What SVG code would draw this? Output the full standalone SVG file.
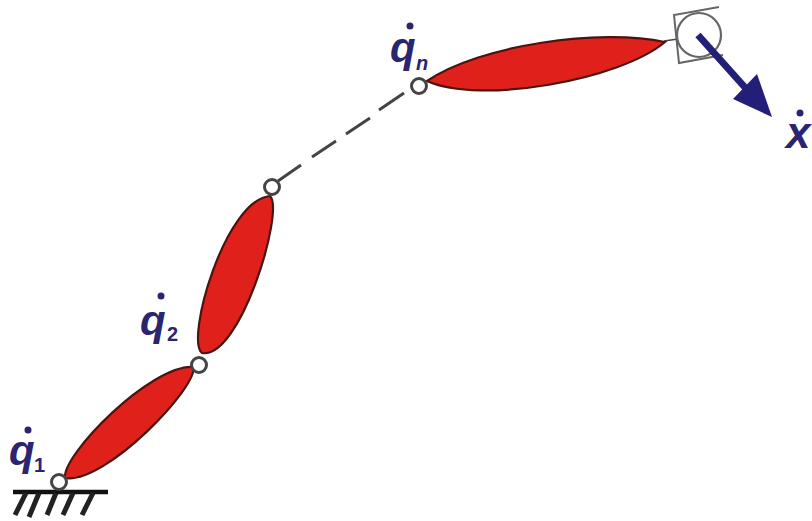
<svg xmlns="http://www.w3.org/2000/svg" width="812" height="521" viewBox="0 0 812 521">
<style>
.link{fill:#e0201a;stroke:#4a1410;stroke-width:2.2}
.joint{fill:#fff;stroke:#444;stroke-width:3}
.lbl{font-family:"Liberation Sans",Arial,sans-serif;font-weight:bold;fill:#2b2470}
.it{font-style:italic}
.dot{fill:#2b2470}
.line{stroke:#444;fill:none}
</style>
<rect width="812" height="521" fill="#fff"/>
<g id="connectors">
<path class="line" stroke-width="3" d="M278 181L301 165M312 157L336 141M346 134L370 118M379 110L404 93"/>
<path class="line" stroke-width="1.5" d="M664 41L678 39"/>
</g>
<g id="ground">
<path d="M13 492H108" stroke="#111" stroke-width="4.5" fill="none"/>
<path d="M26 493L15 515M39 493L29 517M56 493L47 515M73 493L63 515M93 493L82 515" stroke="#222" stroke-width="5" fill="none"/>
</g>
<g id="link1"><path class="link" d="M65 478C62 455 150 365 193 367C200 385 105 485 65 478Z"/></g>
<g id="link2"><path class="link" d="M202 353C185 340 225 200 270 196C285 210 240 360 202 353Z"/></g>
<g id="linkn"><path class="link" d="M427 81C480 45 600 28 665 42C620 80 480 105 427 81Z"/></g>
<g id="joint1"><circle class="joint" cx="59" cy="482" r="7.5"/></g>
<g id="joint2"><circle class="joint" cx="199" cy="365" r="7.5"/></g>
<g id="joint3"><circle class="joint" cx="272" cy="187" r="7.5"/></g>
<g id="jointn"><circle class="joint" cx="419" cy="86" r="7.5"/></g>
<g id="end-effector">
<path d="M719 7L674 15L679 63L723 55" stroke="#666" stroke-width="2" fill="none"/>
<circle cx="699" cy="35" r="22" fill="#fff" stroke="#666" stroke-width="2.2"/>
</g>
<g id="velocity-arrow">
<path d="M698 35L750 93" stroke="#231f78" stroke-width="7" fill="none"/>
<path d="M772 117L733 99L757 74Z" fill="#231f78"/>
</g>
<g id="label-q1"><circle class="dot" cx="28" cy="430" r="3.5"/><text class="lbl it" x="9" y="465" font-size="42">q</text><text class="lbl" x="34" y="472" font-size="20">1</text></g>
<g id="label-q2"><circle class="dot" cx="161" cy="296" r="3.5"/><text class="lbl it" x="140" y="335" font-size="42">q</text><text class="lbl" x="167" y="341" font-size="20">2</text></g>
<g id="label-qn"><circle class="dot" cx="410" cy="26" r="3.5"/><text class="lbl it" x="390" y="62" font-size="42">q</text><text class="lbl it" x="416" y="70" font-size="20">n</text></g>
<g id="label-x"><circle class="dot" cx="800" cy="113" r="3.5"/><text class="lbl it" x="786" y="148" font-size="44">x</text></g>
</svg>
